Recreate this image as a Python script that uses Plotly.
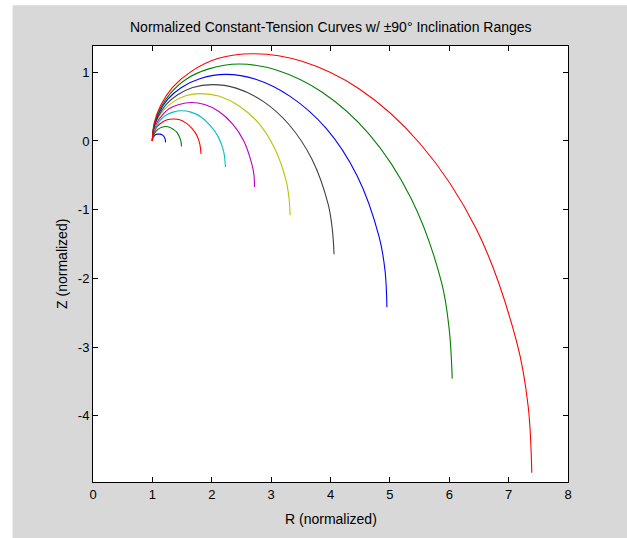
import plotly.graph_objects as go

# Inclination samples from +90 deg down to -90 deg (15 deg steps; the larger
# curves carry extra samples at +82.5 and -82.5 deg near their vertical ends)
R_02 = [1.00, 1.00, 1.01, 1.03, 1.05, 1.08, 1.11, 1.13, 1.16, 1.19, 1.21, 1.22, 1.22]
Z_02 = [0.00, 0.03, 0.05, 0.07, 0.09, 0.10, 0.10, 0.10, 0.09, 0.07, 0.04, 0.01, -0.02]
R_04 = [1.00, 1.01, 1.03, 1.06, 1.11, 1.16, 1.22, 1.29, 1.35, 1.41, 1.45, 1.48, 1.49]
Z_04 = [0.00, 0.05, 0.10, 0.14, 0.18, 0.20, 0.21, 0.20, 0.17, 0.13, 0.07, -0.00, -0.08]
R_06 = [1.00, 1.01, 1.04, 1.09, 1.16, 1.25, 1.35, 1.46, 1.57, 1.67, 1.75, 1.80, 1.82]
Z_06 = [0.00, 0.08, 0.15, 0.22, 0.27, 0.31, 0.32, 0.31, 0.26, 0.18, 0.08, -0.05, -0.19]
R_08 = [1.00, 1.01, 1.06, 1.12, 1.22, 1.35, 1.49, 1.65, 1.82, 1.98, 2.11, 2.20, 2.23]
Z_08 = [0.00, 0.10, 0.20, 0.29, 0.37, 0.42, 0.44, 0.42, 0.35, 0.22, 0.06, -0.15, -0.38]
R_10 = [1.00, 1.004, 1.02, 1.07, 1.16, 1.28, 1.45, 1.65, 1.88, 2.12, 2.35, 2.54, 2.67, 2.71, 2.72]
Z_10 = [0.00, 0.065, 0.13, 0.26, 0.37, 0.47, 0.53, 0.56, 0.53, 0.43, 0.25, -0.00, -0.32, -0.49, -0.67]
R_12 = [1.00, 1.005, 1.02, 1.08, 1.19, 1.35, 1.56, 1.82, 2.13, 2.46, 2.79, 3.06, 3.25, 3.30, 3.32]
Z_12 = [0.00, 0.078, 0.16, 0.31, 0.45, 0.57, 0.66, 0.69, 0.65, 0.51, 0.26, -0.11, -0.57, -0.82, -1.08]
R_14 = [1.00, 1.006, 1.02, 1.10, 1.23, 1.42, 1.68, 2.01, 2.41, 2.86, 3.30, 3.69, 3.96, 4.03, 4.06]
Z_14 = [0.00, 0.091, 0.18, 0.36, 0.53, 0.67, 0.78, 0.82, 0.77, 0.58, 0.24, -0.27, -0.92, -1.28, -1.65]
R_16 = [1.00, 1.007, 1.03, 1.11, 1.26, 1.49, 1.81, 2.23, 2.74, 3.32, 3.92, 4.45, 4.82, 4.92, 4.95]
Z_16 = [0.00, 0.104, 0.21, 0.41, 0.61, 0.78, 0.91, 0.97, 0.90, 0.65, 0.19, -0.51, -1.40, -1.90, -2.42]
R_18 = [1.00, 1.008, 1.03, 1.13, 1.30, 1.57, 1.95, 2.46, 3.10, 3.86, 4.65, 5.36, 5.87, 6.00, 6.05]
Z_18 = [0.00, 0.117, 0.24, 0.47, 0.69, 0.90, 1.05, 1.12, 1.03, 0.71, 0.10, -0.84, -2.06, -2.75, -3.46]
R_20 = [1.00, 1.009, 1.03, 1.14, 1.34, 1.65, 2.10, 2.72, 3.52, 4.48, 5.51, 6.46, 7.14, 7.33, 7.39]
Z_20 = [0.00, 0.130, 0.26, 0.52, 0.78, 1.01, 1.20, 1.27, 1.16, 0.76, -0.04, -1.29, -2.94, -3.87, -4.83]

curves = [(R_02, Z_02), (R_04, Z_04), (R_06, Z_06), (R_08, Z_08), (R_10, Z_10),
          (R_12, Z_12), (R_14, Z_14), (R_16, Z_16), (R_18, Z_18), (R_20, Z_20)]
colors = ["#0000ff", "#008000", "#ff0000", "#00bfbf", "#bf00bf", "#bfbf00", "#404040",
          "#0000ff", "#008000", "#ff0000"]

x_ticks = [0, 1, 2, 3, 4, 5, 6, 7, 8]
y_ticks = [-4, -3, -2, -1, 0, 1]

fig = go.Figure()
for (r, z), col in zip(curves, colors):
    fig.add_trace(go.Scatter(x=r, y=z, mode="lines",
                             line=dict(color=col, width=1.1, shape="spline", smoothing=1.0),
                             showlegend=False, hoverinfo="skip"))

FONT = "Liberation Sans, Arial, Helvetica, sans-serif"

axis_common = dict(showgrid=False, zeroline=False, showline=True, linecolor="black",
                   linewidth=1, mirror="ticks", ticks="inside", ticklen=5,
                   tickcolor="black", tickfont=dict(family=FONT, size=13, color="black"))

fig.update_layout(
    width=627, height=538,
    margin=dict(l=92.5, r=59, t=45.7, b=55.7),
    paper_bgcolor="#d8d8d8", plot_bgcolor="white",
    xaxis=dict(range=[0, 8], tickvals=x_ticks, ticktext=[str(v) for v in x_ticks], **axis_common),
    yaxis=dict(range=[-4.965, 1.383], tickvals=y_ticks, ticktext=[str(v) for v in y_ticks], **axis_common),
    shapes=[
        dict(type="rect", xref="paper", yref="paper", x0=-0.25, x1=-0.1693, y0=-0.2, y1=1.2,
             fillcolor="white", line_width=0, layer="below"),
        dict(type="rect", xref="paper", yref="paper", x0=-0.25, x1=1.2, y0=1.0932, y1=1.2,
             fillcolor="white", line_width=0, layer="below"),
    ],
    annotations=[
        dict(text="Normalized Constant-Tension Curves w/ ±90° Inclination Ranges",
             xref="paper", yref="paper", x=0.5, y=1.043, xanchor="center", yanchor="middle",
             showarrow=False, font=dict(family=FONT, size=14, color="black")),
        dict(text="R (normalized)", xref="paper", yref="paper", x=0.5, y=-0.084,
             xanchor="center", yanchor="middle", showarrow=False,
             font=dict(family=FONT, size=14, color="black")),
        dict(text="Z (normalized)", xref="paper", yref="paper", x=-0.0655, y=0.5,
             xanchor="center", yanchor="middle", textangle=-90, showarrow=False,
             font=dict(family=FONT, size=14, color="black")),
    ],
)

fig.write_html("out.html", config={"displayModeBar": False},
               post_script="document.body.style.margin='0';")
